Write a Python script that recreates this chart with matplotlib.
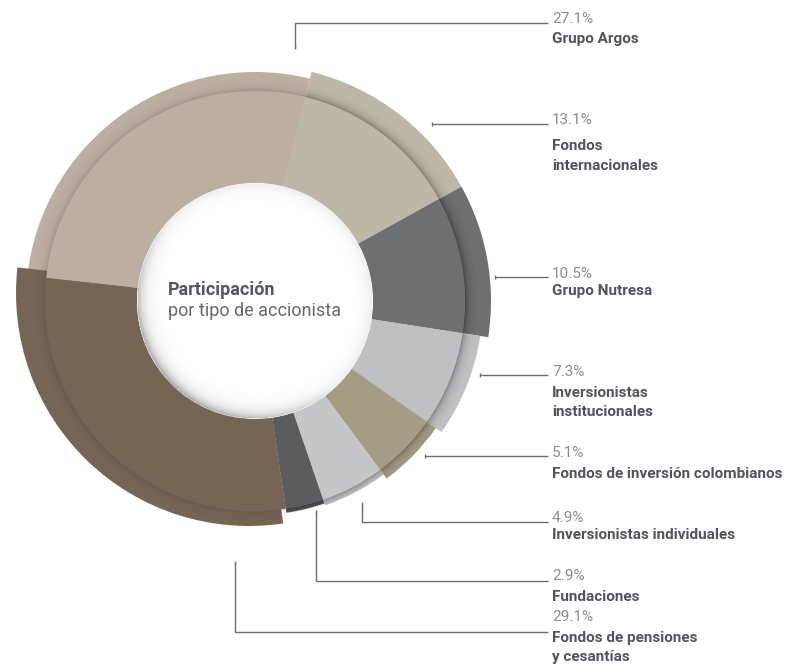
import numpy as np
import matplotlib
matplotlib.use("Agg")
import matplotlib.pyplot as plt
from matplotlib.patches import Wedge, Circle

# Datos: participacion por tipo de accionista
categorias = ["Grupo Argos", "Fondos\ninternacionales", "Grupo Nutresa",
              "Inversionistas\ninstitucionales", "Fondos de inversión colombianos",
              "Inversionistas individuales", "Fundaciones",
              "Fondos de pensiones\ny cesantías"]
valores = [27.1, 13.1, 10.5, 7.3, 5.1, 4.9, 2.9, 29.1]
etiquetas_pct = ["27.1%", "13.1%", "10.5%", "7.3%", "5.1%", "4.9%", "2.9%", "29.1%"]

colores = ["#BCAEA1", "#BDB8A6", "#6E6F73", "#BFC0C2",
           "#A59C86", "#C5C6C8", "#5B5C60", "#766555"]

# Geometria (pixeles, y hacia arriba)
H = 668
cx, cy = 255, H - 301
r_main = 210
r_hole = 118
r_shell = [229, 236, 236, 228, 221, 216, 214, 233]
shell_shift = [(0, 0)] * 7 + [(-6, 8)]
sombra = [0.12, 0.28, 0.32, 0.28, 0.25, 0.25, 0.3, 0.1]

# Lineas guia (pixeles desde arriba) y posicion de textos
guias = [
    [(295, 47), (295, 23), (548, 23)],
    [(432, 124), (548, 124)],
    [(495, 277), (548, 277)],
    [(480, 375), (548, 375)],
    [(425, 456), (548, 456)],
    [(362, 504), (362, 522), (548, 522)],
    [(316, 512), (316, 581), (548, 581)],
    [(235, 563), (235, 632), (548, 632)],
]
y_pct = [23, 124, 278, 376, 457, 522, 580, 621]
y_nom = [43, 150, 295, 397, 478, 539, 601, 642]
interlinea = 19.5

fig = plt.figure(figsize=(7.95, 6.68), dpi=100)
ax = fig.add_axes([0, 0, 1, 1])

# Anillo exterior (relieve)
shells, _ = ax.pie(valores, colors=colores, radius=max(r_shell), center=(cx, cy),
                   startangle=173.7, counterclock=False,
                   wedgeprops=dict(width=max(r_shell) - r_hole, linewidth=0))
for w, r, (dx, dy), a0 in zip(shells, r_shell, shell_shift, sombra):
    w.set_radius(r)
    w.set_width(r - r_hole)
    w.set_center((cx + dx, cy + dy))
    w.set_zorder(1)
    # sombra degradada junto al anillo principal
    for k in range(8):
        rr = r_main + 1.5 * (k + 1)
        if rr <= r + 1:
            ax.add_patch(Wedge((cx, cy), rr, w.theta1, w.theta2, width=1.5,
                               facecolor="black", alpha=a0 * np.exp(-k / 2.5),
                               linewidth=0, zorder=1.5))

# Anillo principal
main, _ = ax.pie(valores, colors=colores, radius=r_main, center=(cx, cy),
                 startangle=173.7, counterclock=False,
                 wedgeprops=dict(width=r_main - r_hole, linewidth=0))
for w in main:
    w.set_zorder(2)

# Sombra interior del hueco
n = 300
xs = np.linspace(cx - r_hole, cx + r_hole, n)
ys = np.linspace(cy - r_hole, cy + r_hole, n)
X, Y = np.meshgrid(xs, ys)
dist = np.hypot(X - cx, Y - cy)
ang = np.arctan2(Y - cy, X - cx)
d = r_hole - dist
peso = 0.2 + 0.8 * np.clip(np.cos(ang - np.deg2rad(225)), 0, None)
alpha = np.where(d >= 0, 0.5 * np.exp(-d / 6.0) * peso, 0)
img = np.zeros((n, n, 4))
img[..., :3] = 0.25
img[..., 3] = alpha
ax.add_patch(Circle((cx, cy), r_hole, facecolor="white", linewidth=0, zorder=2.5))
im = ax.imshow(img, extent=(cx - r_hole, cx + r_hole, cy - r_hole, cy + r_hole),
               origin="lower", zorder=3, interpolation="bilinear")
im.set_clip_path(Circle((cx, cy), r_hole, transform=ax.transData))

# Texto central
ax.text(168, H - 295, "Participación", fontsize=13, fontweight="bold",
        color="#54585D", family="Roboto", va="baseline", zorder=4)
ax.text(168, H - 316, "por tipo de accionista", fontsize=13, fontweight="normal",
        color="#64676B", family="Roboto", va="baseline", zorder=4)

# Lineas guia y etiquetas
for pts, pct, nom, yp, yn in zip(guias, etiquetas_pct, categorias, y_pct, y_nom):
    px = [p[0] for p in pts]
    py = [H - p[1] for p in pts]
    ax.plot(px, py, color="#6D6E70", lw=1.0, solid_capstyle="butt", zorder=4)
    ax.plot(px[0], py[0], marker="|", color="#6D6E70", ms=3, mew=1.0, zorder=4)
    ax.text(552, H - yp, pct, fontsize=11, fontweight="normal", color="#8A8C8F",
            family="Roboto", va="baseline")
    for j, linea in enumerate(nom.split("\n")):
        ax.text(552, H - yn - j * interlinea, linea, fontsize=11, fontweight="bold",
                color="#505358", family="Roboto", va="baseline")

ax.set_xlim(0, 795)
ax.set_ylim(0, H)
ax.set_aspect("equal")
ax.axis("off")

fig.savefig("out.png", dpi=100, facecolor="white")
